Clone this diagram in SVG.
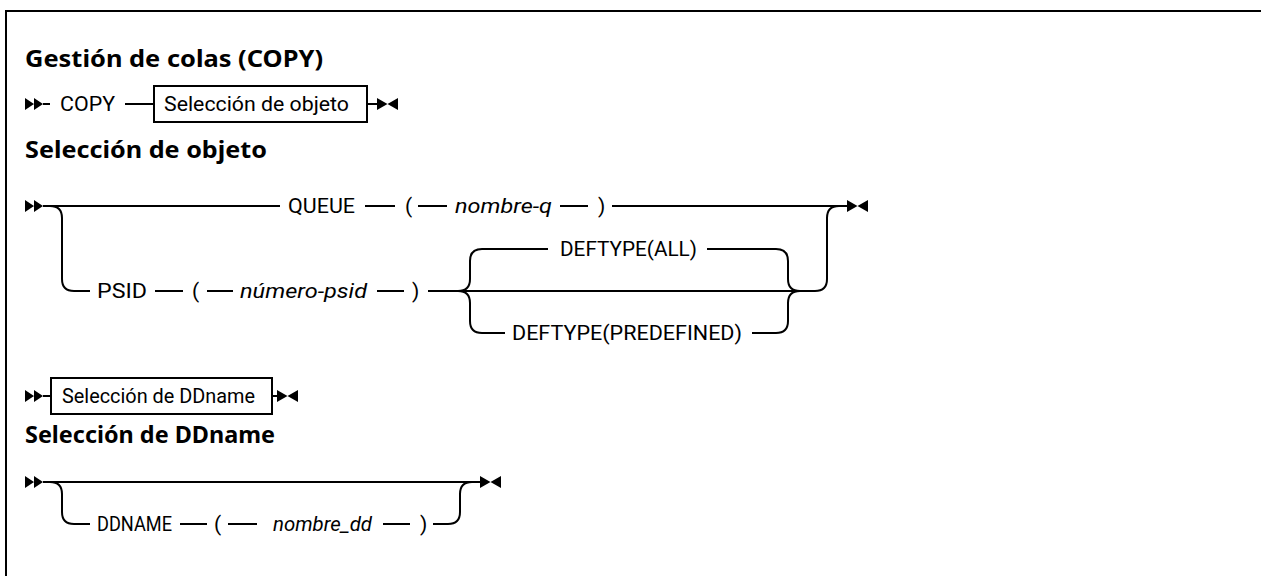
<svg xmlns="http://www.w3.org/2000/svg" width="1261" height="576" viewBox="0 0 1261 576">
<style>
.t{font-family:Roboto,"Liberation Sans",sans-serif;font-size:21px;fill:#000}
.v{font-family:Roboto,"Liberation Sans",sans-serif;font-size:21px;font-style:italic;fill:#000}
.h{font-family:"Noto Sans","Liberation Sans",sans-serif;font-size:23px;font-weight:bold;fill:#000}
.l{fill:none;stroke:#000;stroke-width:2}
.b{fill:#fff;stroke:#000;stroke-width:2}
.m{fill:#000}
</style>
<defs>
<path id="start" d="M0,-6 L9,0 L0,6 Z M9,-6 L18,0 L9,6 Z"/>
<path id="end" d="M0,-6 L10.5,0 L0,6 Z M21,-6 L10.5,0 L21,6 Z"/>
</defs>
<rect width="1261" height="576" fill="#fff"/>
<path class="l" d="M6,576 V11 H1261" stroke-width="2.5"/>

<g id="title1"><text class="h" x="25" y="67" textLength="298" lengthAdjust="spacingAndGlyphs">Gestión de colas (COPY)</text></g>

<g id="row1">
<use href="#start" class="m" x="25" y="104"/>
<text class="t" x="60" y="111" textLength="55" lengthAdjust="spacingAndGlyphs">COPY</text>
</g>
<g id="box-objeto">
<rect class="b" x="154" y="86" width="213" height="36"/>
<text class="t" x="164" y="111" textLength="185" lengthAdjust="spacingAndGlyphs">Selección de objeto</text>
</g>
<use href="#end" class="m" x="377" y="104"/>

<g id="title2"><text class="h" x="25" y="158" textLength="242" lengthAdjust="spacingAndGlyphs">Selección de objeto</text></g>

<g id="row2">
<use href="#start" class="m" x="25" y="206"/>
<text class="t" x="288" y="213" textLength="67" lengthAdjust="spacingAndGlyphs">QUEUE</text>
<text class="t" x="405" y="213">(</text>
<text class="v" x="455" y="213" textLength="97" lengthAdjust="spacingAndGlyphs">nombre-q</text>
<text class="t" x="598" y="213">)</text>
<use href="#end" class="m" x="847" y="206"/>
</g>
<g id="row2-psid">
<text class="t" x="97" y="298" textLength="50" lengthAdjust="spacingAndGlyphs">PSID</text>
<text class="t" x="192" y="298">(</text>
<text class="v" x="240" y="298" textLength="127" lengthAdjust="spacingAndGlyphs">número-psid</text>
<text class="t" x="412" y="298">)</text>
</g>
<g id="deftype-all"><text class="t" x="560" y="256" textLength="137" lengthAdjust="spacingAndGlyphs">DEFTYPE(ALL)</text></g>
<g id="deftype-predefined"><text class="t" x="512" y="340" textLength="230" lengthAdjust="spacingAndGlyphs">DEFTYPE(PREDEFINED)</text></g>

<g id="row3">
<use href="#start" class="m" x="25" y="396"/>
</g>
<g id="box-ddname">
<rect class="b" x="51" y="378" width="221" height="36"/>
<text class="t" x="62" y="403" textLength="193" lengthAdjust="spacingAndGlyphs">Selección de DDname</text>
</g>
<use href="#end" class="m" x="277" y="396"/>

<g id="title3"><text class="h" x="25" y="443" textLength="250" lengthAdjust="spacingAndGlyphs">Selección de DDname</text></g>

<g id="row4">
<use href="#start" class="m" x="25" y="482"/>
<text class="t" x="97" y="531" textLength="75" lengthAdjust="spacingAndGlyphs">DDNAME</text>
<text class="t" x="214" y="531">(</text>
<text class="v" x="273" y="531" textLength="99" lengthAdjust="spacingAndGlyphs">nombre_dd</text>
<text class="t" x="420" y="531">)</text>
<use href="#end" class="m" x="480" y="482"/>
</g>

<g id="connectors">
<path class="l" d="M43,104 H50 M125,104 H154 M367,104 H377"/>
<path class="l" d="M43,206 H280 M365,206 H395 M418,206 H447 M560,206 H588 M612,206 H847"/>
<path class="l" d="M50,206 Q62,206 62,218 V279 Q62,291 74,291 H90"/>
<path class="l" d="M155,291 H183 M207,291 H233 M377,291 H404 M428,291 H815"/>
<path class="l" d="M458,291 Q470,291 470,279 V261 Q470,249 482,249 H548 M707,249 H776 Q788,249 788,261 V279 Q788,291 800,291"/>
<path class="l" d="M458,291 Q470,291 470,303 V321 Q470,333 482,333 H505 M752,333 H776 Q788,333 788,321 V303 Q788,291 800,291"/>
<path class="l" d="M815,291 Q827,291 827,279 V218 Q827,206 839,206"/>
<path class="l" d="M43,396 H51 M272,396 H277"/>
<path class="l" d="M43,482 H480"/>
<path class="l" d="M50,482 Q62,482 62,494 V512 Q62,524 74,524 H90 M180,524 H207 M228,524 H257 M383,524 H410 M433,524 H448 Q460,524 460,512 V494 Q460,482 472,482"/>
</g>
</svg>
